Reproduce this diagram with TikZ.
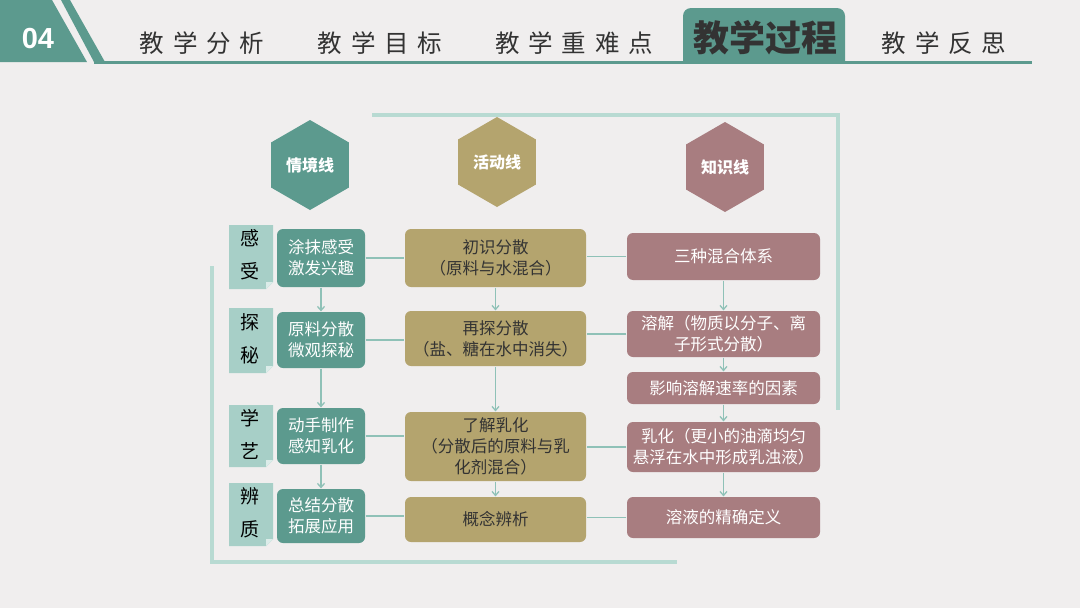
\documentclass[tikz,border=0pt]{standalone}
\usepackage{fontspec}
\usetikzlibrary{arrows.meta,shapes.geometric}
\newfontfamily\cjk{Noto Sans CJK SC}
\newfontfamily\tabfont[LetterSpace=36]{Noto Sans CJK SC}
\newfontfamily\numfont{Liberation Sans}
\definecolor{bgc}{HTML}{F0EEEE}
\definecolor{tealA}{HTML}{5C9A8E}
\definecolor{oliveA}{HTML}{B4A46E}
\definecolor{mauveA}{HTML}{A87D80}
\definecolor{tagc}{HTML}{A7CFC7}
\definecolor{framec}{HTML}{B8DAD2}
\definecolor{linkc}{HTML}{8FC1B7}
\definecolor{inkc}{HTML}{333333}

\begin{document}
\begin{tikzpicture}[x=1pt,y=-1pt,line width=1.2pt,>=Stealth,
  hexa/.style={regular polygon,regular polygon sides=6,shape border rotate=30,
    minimum size=90pt,inner sep=0pt,text=white,font=\cjk\bfseries\fontsize{16}{18}\selectfont},
  box/.style={rounded corners=6pt,inner sep=0pt,align=center,
    font=\cjk\fontsize{16.5}{21}\selectfont},
  lbox/.style={box,fill=tealA,text=white,minimum width=88pt},
  mbox/.style={box,fill=oliveA,text=inkc,minimum width=181pt},
  rbox/.style={box,fill=mauveA,text=white,minimum width=193pt},
  tagtxt/.style={align=center,text=black,font=\cjk\fontsize{19}{33}\selectfont},
  tabtxt/.style={text=inkc,font=\tabfont\fontsize{24.5}{26}\selectfont},
  link/.style={draw=linkc,line width=1.3pt},
  flow/.style={draw=linkc,line width=1.3pt,-{Straight Barb[length=4pt,width=7pt]}},
  frame/.style={draw=framec,line width=3.5pt}]
\useasboundingbox (0,0) rectangle (1080,608);
\fill[bgc] (0,0) rectangle (1080,608);
% ---------- header ----------
\fill[tealA] (0,0) -- (52,0) -- (87,62) -- (0,62) -- cycle;
\fill[tealA] (61,0) -- (70,0) -- (105,62) -- (94,62) -- cycle;
\draw[tealA,line width=3pt] (94,62) -- (1032,62);
\fill[tealA] (683,62) {[rounded corners=8pt] -- (683,8) -- (845,8)} -- (845,62) -- cycle;
\node[text=white,font=\numfont\bfseries\fontsize{29}{30}\selectfont] (num) at (38,39) {04};
\node[tabtxt] (tabA) at (202,43) {教学分析};
\node[tabtxt] (tabB) at (380,43) {教学目标};
\node[tabtxt] (tabC) at (574,43) {教学重难点};
\node[text=inkc,font=\cjk\bfseries\fontsize{36}{38}\selectfont] (tabD) at (765,38) {教学过程};
\node[tabtxt] (tabE) at (944,43) {教学反思};
% ---------- frame lines ----------
\draw[frame] (372,115) -- (838,115) -- (838,410);
\draw[frame] (212,266) -- (212,562) -- (677,562);
% ---------- three lines (hexagons) ----------
\node[hexa,fill=tealA] (hq) at (310,165) {情境线};
\node[hexa,fill=oliveA] (hh) at (497,162) {活动线};
\node[hexa,fill=mauveA] (hz) at (725,167) {知识线};
% ---------- side tags ----------
\foreach \y/\h/\t [count=\i] in {257/64/感\\受,340.5/65/探\\秘,436/62/学\\艺,514.5/63/辨\\质}{
  \fill[tagc] (229,{\y-\h/2}) -- (273,{\y-\h/2}) -- (273,{\y+\h/2-7}) -- (266,{\y+\h/2})
    -- (229,{\y+\h/2}) -- cycle;
  \fill[white!60!tagc] (273,{\y+\h/2-7}) -- (266,{\y+\h/2-7}) -- (266,{\y+\h/2}) -- cycle;
  \node[tagtxt] (t\i) at (250,{\y-2}) {\t};}
% ---------- left column ----------
\node[lbox,minimum height=58pt] (l1) at (321,258) {涂抹感受\\激发兴趣};
\node[lbox,minimum height=56pt] (l2) at (321,340) {原料分散\\微观探秘};
\node[lbox,minimum height=56pt] (l3) at (321,436) {动手制作\\感知乳化};
\node[lbox,minimum height=54pt] (l4) at (321,516) {总结分散\\拓展应用};
% ---------- middle column ----------
\node[mbox,minimum height=58pt] (m1) at (495.5,258) {初识分散\\（原料与水混合）};
\node[mbox,minimum height=55pt] (m2) at (495.5,338.5) {再探分散\\（盐、糖在水中消失）};
\node[mbox,minimum height=69pt] (m3) at (495.5,446.5) {了解乳化\\（分散后的原料与乳\\化剂混合）};
\node[mbox,minimum height=45pt] (m4) at (495.5,519.5) {概念辨析};
% ---------- right column ----------
\node[rbox,minimum height=47pt] (r1) at (723.5,256.5) {三种混合体系};
\node[rbox,minimum height=46pt] (r2) at (723.5,334) {溶解（物质以分子、离\\子形式分散）};
\node[rbox,minimum height=32pt] (r3) at (723.5,388) {影响溶解速率的因素};
\node[rbox,minimum height=50pt] (r4) at (723.5,447) {乳化（更小的油滴均匀\\悬浮在水中形成乳浊液）};
\node[rbox,minimum height=41pt] (r5) at (723.5,517.5) {溶液的精确定义};
% ---------- connectors ----------
\foreach \i in {1,...,4}{ \draw[link] (l\i.east) -- (l\i.east -| m\i.west); }
\foreach \r/\m in {r1/m1,r2/m2,r4/m3,r5/m4}{ \draw[link] (\r.west) -- (\r.west -| \m.east); }
\foreach \a/\b in {l1/l2,l2/l3,l3/l4,m1/m2,m2/m3,m3/m4,r1/r2,r2/r3,r3/r4,r4/r5}{
  \draw[flow] (\a.south) -- (\b.north); }
\end{tikzpicture}
\end{document}
